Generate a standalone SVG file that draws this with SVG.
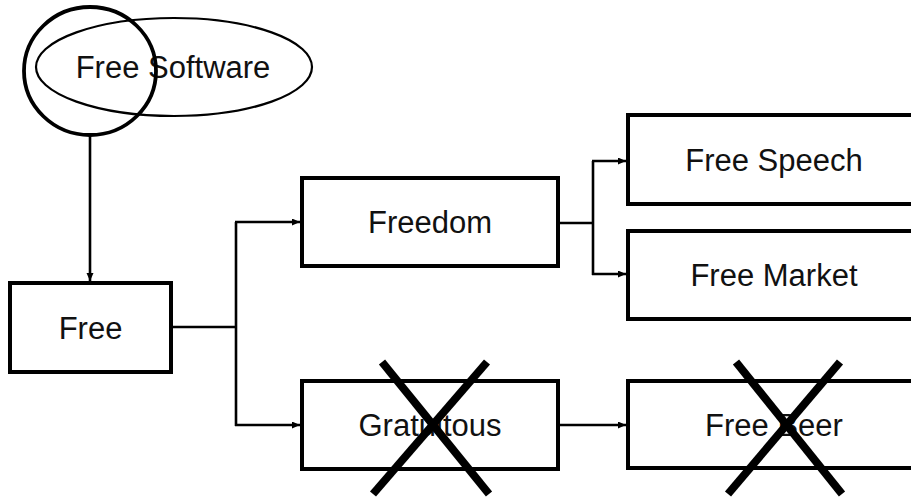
<svg xmlns="http://www.w3.org/2000/svg" width="911" height="497" viewBox="0 0 911 497">
  <style>
    .box { fill: #ffffff; stroke: #000000; stroke-width: 4; }
    .label { font-family: "Liberation Sans", Arial, sans-serif; font-size: 31px; fill: #111111; text-anchor: middle; }
    .wire { fill: none; stroke: #000000; stroke-width: 2.6; }
    .cross { stroke: #000000; stroke-width: 8; stroke-linecap: butt; }
  </style>
  <defs>
    <marker id="arrow" markerUnits="userSpaceOnUse" markerWidth="9" markerHeight="8" refX="8" refY="3.5" orient="auto">
      <path d="M0,0 L8,3.5 L0,7 z" fill="#000000"/>
    </marker>
  </defs>

  <!-- connectors -->
  <g id="connectors" class="wire">
    <path d="M90,135 V281" marker-end="url(#arrow)"/>
    <path d="M171,327 H236"/>
    <path d="M236,222 V426"/>
    <path d="M235,222 H300" marker-end="url(#arrow)"/>
    <path d="M235,425 H300" marker-end="url(#arrow)"/>
    <path d="M558,223 H593"/>
    <path d="M593,161 V275"/>
    <path d="M592,161 H626" marker-end="url(#arrow)"/>
    <path d="M592,274 H626" marker-end="url(#arrow)"/>
    <path d="M558,425 H626" marker-end="url(#arrow)"/>
  </g>

  <!-- top: Free Software -->
  <g id="free-software">
    <ellipse cx="174" cy="67" rx="138" ry="49" fill="none" stroke="#000000" stroke-width="2.2"/>
    <text class="label" x="173" y="78">Free Software</text>
    <ellipse cx="90" cy="71" rx="66" ry="64" fill="none" stroke="#000000" stroke-width="3.8"/>
  </g>

  <g id="free">
    <rect class="box" x="10" y="283" width="161" height="89"/>
    <text class="label" x="90.5" y="339">Free</text>
  </g>

  <g id="freedom">
    <rect class="box" x="302" y="178" width="256" height="88"/>
    <text class="label" x="430" y="233">Freedom</text>
  </g>

  <g id="gratuitous">
    <rect class="box" x="302" y="381" width="256" height="88"/>
    <text class="label" x="430" y="436">Gratuitous</text>
    <line class="cross" x1="382" y1="362" x2="489" y2="494"/>
    <line class="cross" x1="487" y1="362" x2="373" y2="494"/>
  </g>

  <g id="free-speech">
    <rect class="box" x="628" y="115" width="295" height="89"/>
    <text class="label" x="774" y="171">Free Speech</text>
  </g>

  <g id="free-market">
    <rect class="box" x="628" y="231" width="295" height="88"/>
    <text class="label" x="774" y="286">Free Market</text>
  </g>

  <g id="free-beer">
    <rect class="box" x="628" y="381" width="295" height="87"/>
    <text class="label" x="774" y="436">Free Beer</text>
    <line class="cross" x1="736" y1="362" x2="842" y2="494"/>
    <line class="cross" x1="840" y1="362" x2="728" y2="494"/>
  </g>
</svg>
